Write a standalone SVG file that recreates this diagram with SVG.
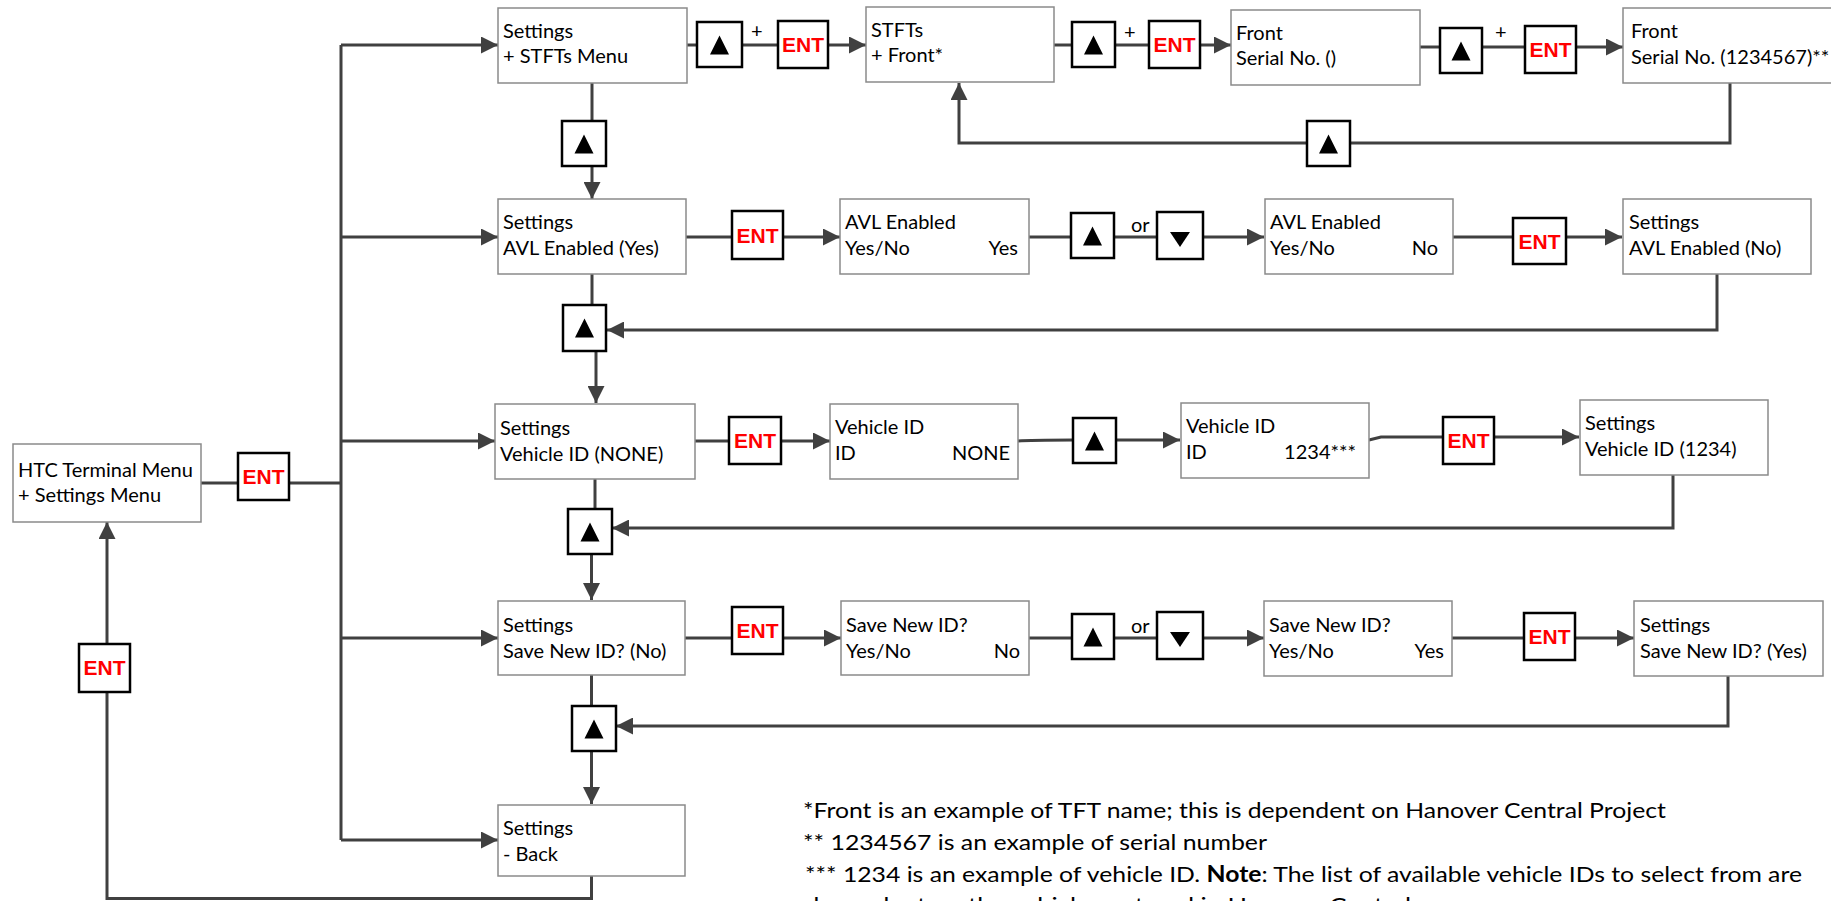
<svg xmlns="http://www.w3.org/2000/svg" width="1831" height="901" viewBox="0 0 1831 901">
<style>
.bg{fill:#ffffff}
.node{fill:#ffffff;stroke:#8a8a8a;stroke-width:1.5}
.t{font-family:Lato,"Open Sans","Liberation Sans",sans-serif;font-size:20px;fill:#000000}
.te{font-family:Lato,"Open Sans","Liberation Sans",sans-serif;font-size:20px;fill:#000000;text-anchor:end}
.btn{fill:#ffffff;stroke:#000000;stroke-width:2.5}
.tri{fill:#000000}
.ent{font-family:"Liberation Sans",Arial,sans-serif;font-size:21px;font-weight:bold;fill:#ff0000;text-anchor:middle}
.c{fill:none;stroke:#404040;stroke-width:3}
.lbl{font-family:Lato,"Open Sans","Liberation Sans",sans-serif;font-size:20px;fill:#000000}
.note{font-family:Lato,"Open Sans","Liberation Sans",sans-serif;font-size:22px;fill:#000000}
</style>
<defs>
<marker id="ah" markerUnits="userSpaceOnUse" markerWidth="18" markerHeight="17" refX="17" refY="8.5" orient="auto">
<path d="M0,0 L17,8.5 L0,17 Z" fill="#404040"/>
</marker>
<g id="up"><path d="M0,-9.5 L9.5,9.5 L-9.5,9.5 Z" class="tri"/></g>
<g id="dn"><path d="M-10,-7 L10,-7 L0,8 Z" class="tri"/></g>
</defs>
<rect class="bg" x="0" y="0" width="1831" height="901"/>

<g id="connectors">
<!-- bus -->
<path class="c" d="M341,45 V840"/>
<path class="c" d="M341,45 H498" marker-end="url(#ah)"/>
<path class="c" d="M341,237 H498" marker-end="url(#ah)"/>
<path class="c" d="M341,441 H495" marker-end="url(#ah)"/>
<path class="c" d="M341,638 H498" marker-end="url(#ah)"/>
<path class="c" d="M341,840 H498" marker-end="url(#ah)"/>
<path class="c" d="M201,483 H238"/>
<path class="c" d="M289,483 H341"/>
<!-- row 1 -->
<path class="c" d="M687,45 H697"/>
<path class="c" d="M742,45 H778"/>
<path class="c" d="M828,45 H866" marker-end="url(#ah)"/>
<path class="c" d="M1054,45 H1072"/>
<path class="c" d="M1115,45 H1149"/>
<path class="c" d="M1200,45 H1231" marker-end="url(#ah)"/>
<path class="c" d="M1420,47 H1440"/>
<path class="c" d="M1482,47 H1525"/>
<path class="c" d="M1576,47 H1623" marker-end="url(#ah)"/>
<path class="c" d="M1730,83 V143 H1350"/>
<path class="c" d="M1307,143 H959 V83" marker-end="url(#ah)"/>
<path class="c" d="M592,83 V121"/>
<path class="c" d="M592,166 V199" marker-end="url(#ah)"/>
<!-- row 2 -->
<path class="c" d="M686,237 H732"/>
<path class="c" d="M783,237 H840" marker-end="url(#ah)"/>
<path class="c" d="M1029,237 H1071"/>
<path class="c" d="M1114,237 H1157"/>
<path class="c" d="M1203,237 H1264" marker-end="url(#ah)"/>
<path class="c" d="M1453,237 H1513"/>
<path class="c" d="M1566,237 H1622" marker-end="url(#ah)"/>
<path class="c" d="M1717,274 V330 H607" marker-end="url(#ah)"/>
<path class="c" d="M592,274 V305"/>
<path class="c" d="M596,351 V403" marker-end="url(#ah)"/>
<!-- row 3 -->
<path class="c" d="M695,441 H729"/>
<path class="c" d="M781,441 H830" marker-end="url(#ah)"/>
<path class="c" d="M1018,441 C1030,440 1040,440 1073,440"/>
<path class="c" d="M1116,440 H1180" marker-end="url(#ah)"/>
<path class="c" d="M1369,440 L1381,437 H1443"/>
<path class="c" d="M1494,437 H1579" marker-end="url(#ah)"/>
<path class="c" d="M1673,475 V528 H612" marker-end="url(#ah)"/>
<path class="c" d="M595,479 V509"/>
<path class="c" d="M591.5,554 V600" marker-end="url(#ah)"/>
<!-- row 4 -->
<path class="c" d="M685,638 H732"/>
<path class="c" d="M783,638 H841" marker-end="url(#ah)"/>
<path class="c" d="M1029,638 H1072"/>
<path class="c" d="M1114,638 H1157"/>
<path class="c" d="M1203,638 H1264" marker-end="url(#ah)"/>
<path class="c" d="M1452,638 H1524"/>
<path class="c" d="M1575,638 H1634" marker-end="url(#ah)"/>
<path class="c" d="M1728,676 V726 H616" marker-end="url(#ah)"/>
<path class="c" d="M591.5,675 V706"/>
<path class="c" d="M591.5,751 V804" marker-end="url(#ah)"/>
<!-- back to HTC -->
<path class="c" d="M591.5,876 V898.5 H107 V692"/>
<path class="c" d="M107,644 V522" marker-end="url(#ah)"/>
</g>

<!-- labels on connectors -->
<g id="connector-labels">
<text class="lbl" x="751" y="38" font-size="18">+</text>
<text class="lbl" x="1124" y="39" font-size="18">+</text>
<text class="lbl" x="1495" y="39" font-size="18">+</text>
<text class="lbl" x="1131" y="232">or</text>
<text class="lbl" x="1131" y="633">or</text>
</g>

<!-- nodes -->
<g id="n-htc"><rect class="node" x="13" y="444" width="188" height="78"/><text class="t" x="18" y="477">HTC Terminal Menu</text><text class="t" x="18" y="502">+ Settings Menu</text></g>
<g id="n-stfts-menu"><rect class="node" x="498" y="8" width="189" height="75"/><text class="t" x="503" y="38">Settings</text><text class="t" x="503" y="63">+ STFTs Menu</text></g>
<g id="n-stfts-front"><rect class="node" x="866" y="7" width="188" height="75"/><text class="t" x="871" y="37">STFTs</text><text class="t" x="871" y="62">+ Front*</text></g>
<g id="n-front-serial"><rect class="node" x="1231" y="10" width="189" height="75"/><text class="t" x="1236" y="40">Front</text><text class="t" x="1236" y="65">Serial No. ()</text></g>
<g id="n-front-serial2"><rect class="node" x="1623" y="8" width="240" height="75"/><text class="t" x="1631" y="38">Front</text><text class="t" x="1631" y="64">Serial No. (1234567)**</text></g>

<g id="n-avl"><rect class="node" x="498" y="199" width="188" height="75"/><text class="t" x="503" y="229">Settings</text><text class="t" x="503" y="255">AVL Enabled (Yes)</text></g>
<g id="n-avl-yes"><rect class="node" x="840" y="199" width="189" height="75"/><text class="t" x="845" y="229">AVL Enabled</text><text class="t" x="845" y="255">Yes/No</text><text class="te" x="1018" y="255">Yes</text></g>
<g id="n-avl-no"><rect class="node" x="1265" y="199" width="188" height="75"/><text class="t" x="1270" y="229">AVL Enabled</text><text class="t" x="1270" y="255">Yes/No</text><text class="te" x="1438" y="255">No</text></g>
<g id="n-avl-set-no"><rect class="node" x="1623" y="199" width="188" height="75"/><text class="t" x="1629" y="229">Settings</text><text class="t" x="1629" y="255">AVL Enabled (No)</text></g>

<g id="n-vid"><rect class="node" x="495" y="404" width="200" height="75"/><text class="t" x="500" y="435">Settings</text><text class="t" x="500" y="461">Vehicle ID (NONE)</text></g>
<g id="n-vid-none"><rect class="node" x="830" y="404" width="188" height="75"/><text class="t" x="835" y="434">Vehicle ID</text><text class="t" x="835" y="460">ID</text><text class="te" x="1010" y="460">NONE</text></g>
<g id="n-vid-1234"><rect class="node" x="1181" y="403" width="188" height="75"/><text class="t" x="1186" y="433">Vehicle ID</text><text class="t" x="1186" y="459">ID</text><text class="te" x="1356" y="459">1234***</text></g>
<g id="n-vid-set"><rect class="node" x="1580" y="400" width="188" height="75"/><text class="t" x="1585" y="430">Settings</text><text class="t" x="1585" y="456">Vehicle ID (1234)</text></g>

<g id="n-save"><rect class="node" x="498" y="601" width="187" height="74"/><text class="t" x="503" y="632">Settings</text><text class="t" x="503" y="658">Save New ID? (No)</text></g>
<g id="n-save-no"><rect class="node" x="841" y="601" width="188" height="74"/><text class="t" x="846" y="632">Save New ID?</text><text class="t" x="846" y="658">Yes/No</text><text class="te" x="1020" y="658">No</text></g>
<g id="n-save-yes"><rect class="node" x="1264" y="601" width="188" height="75"/><text class="t" x="1269" y="632">Save New ID?</text><text class="t" x="1269" y="658">Yes/No</text><text class="te" x="1444" y="658">Yes</text></g>
<g id="n-save-set"><rect class="node" x="1634" y="601" width="189" height="75"/><text class="t" x="1640" y="632">Settings</text><text class="t" x="1640" y="658">Save New ID? (Yes)</text></g>

<g id="n-back"><rect class="node" x="498" y="805" width="187" height="71"/><text class="t" x="503" y="835">Settings</text><text class="t" x="503" y="861">- Back</text></g>

<!-- key buttons -->
<g id="k-up1"><rect class="btn" x="697" y="22" width="45" height="45"/><use href="#up" x="719.5" y="45"/></g>
<g id="k-ent1"><rect class="btn" x="778" y="21" width="50" height="47"/><text class="ent" x="803" y="52">ENT</text></g>
<g id="k-up2"><rect class="btn" x="1072" y="22" width="43" height="45"/><use href="#up" x="1093.5" y="45"/></g>
<g id="k-ent2"><rect class="btn" x="1149" y="21" width="51" height="47"/><text class="ent" x="1174.5" y="52">ENT</text></g>
<g id="k-up3"><rect class="btn" x="1440" y="28" width="42" height="45"/><use href="#up" x="1461" y="51"/></g>
<g id="k-ent3"><rect class="btn" x="1525" y="26" width="51" height="47"/><text class="ent" x="1550.5" y="57">ENT</text></g>
<g id="k-up4"><rect class="btn" x="1307" y="121" width="43" height="45"/><use href="#up" x="1328.5" y="144"/></g>
<g id="k-up5"><rect class="btn" x="562" y="121" width="44" height="45"/><use href="#up" x="584" y="144"/></g>

<g id="k-ent4"><rect class="btn" x="732" y="211" width="51" height="48"/><text class="ent" x="757.5" y="243">ENT</text></g>
<g id="k-up6"><rect class="btn" x="1071" y="213" width="43" height="45"/><use href="#up" x="1092.5" y="236"/></g>
<g id="k-dn1"><rect class="btn" x="1157" y="212" width="46" height="47"/><use href="#dn" x="1180" y="239"/></g>
<g id="k-ent5"><rect class="btn" x="1513" y="218" width="53" height="46"/><text class="ent" x="1539.5" y="249">ENT</text></g>
<g id="k-up7"><rect class="btn" x="563" y="305" width="43" height="46"/><use href="#up" x="584.5" y="328"/></g>

<g id="k-ent6"><rect class="btn" x="729" y="417" width="52" height="47"/><text class="ent" x="755" y="448">ENT</text></g>
<g id="k-up8"><rect class="btn" x="1073" y="418" width="43" height="45"/><use href="#up" x="1094.5" y="441"/></g>
<g id="k-ent7"><rect class="btn" x="1443" y="417" width="51" height="47"/><text class="ent" x="1468.5" y="448">ENT</text></g>
<g id="k-up9"><rect class="btn" x="568" y="509" width="44" height="45"/><use href="#up" x="590" y="532"/></g>

<g id="k-ent8"><rect class="btn" x="732" y="607" width="51" height="47"/><text class="ent" x="757.5" y="638">ENT</text></g>
<g id="k-up10"><rect class="btn" x="1072" y="614" width="42" height="45"/><use href="#up" x="1093" y="637"/></g>
<g id="k-dn2"><rect class="btn" x="1157" y="612" width="46" height="47"/><use href="#dn" x="1180" y="639"/></g>
<g id="k-ent9"><rect class="btn" x="1524" y="613" width="51" height="47"/><text class="ent" x="1549.5" y="644">ENT</text></g>
<g id="k-up11"><rect class="btn" x="572" y="706" width="44" height="45"/><use href="#up" x="594" y="729"/></g>

<g id="k-ent10"><rect class="btn" x="238" y="453" width="51" height="47"/><text class="ent" x="263.5" y="484">ENT</text></g>
<g id="k-ent11"><rect class="btn" x="79" y="644" width="51" height="48"/><text class="ent" x="104.5" y="675">ENT</text></g>

<!-- notes -->
<g id="notes">
<text class="note" x="803" y="818" textLength="863" lengthAdjust="spacingAndGlyphs">*Front is an example of TFT name; this is dependent on Hanover Central Project</text>
<text class="note" x="803" y="850" textLength="464" lengthAdjust="spacingAndGlyphs">** 1234567 is an example of serial number</text>
<text class="note" x="805" y="882" textLength="997" lengthAdjust="spacingAndGlyphs">*** 1234 is an example of vehicle ID. <tspan font-weight="bold">Note</tspan>: The list of available vehicle IDs to select from are</text>
<text class="note" x="805" y="913" textLength="606" lengthAdjust="spacingAndGlyphs">dependent on the vehicles entered in Hanover Central</text>
</g>
</svg>
